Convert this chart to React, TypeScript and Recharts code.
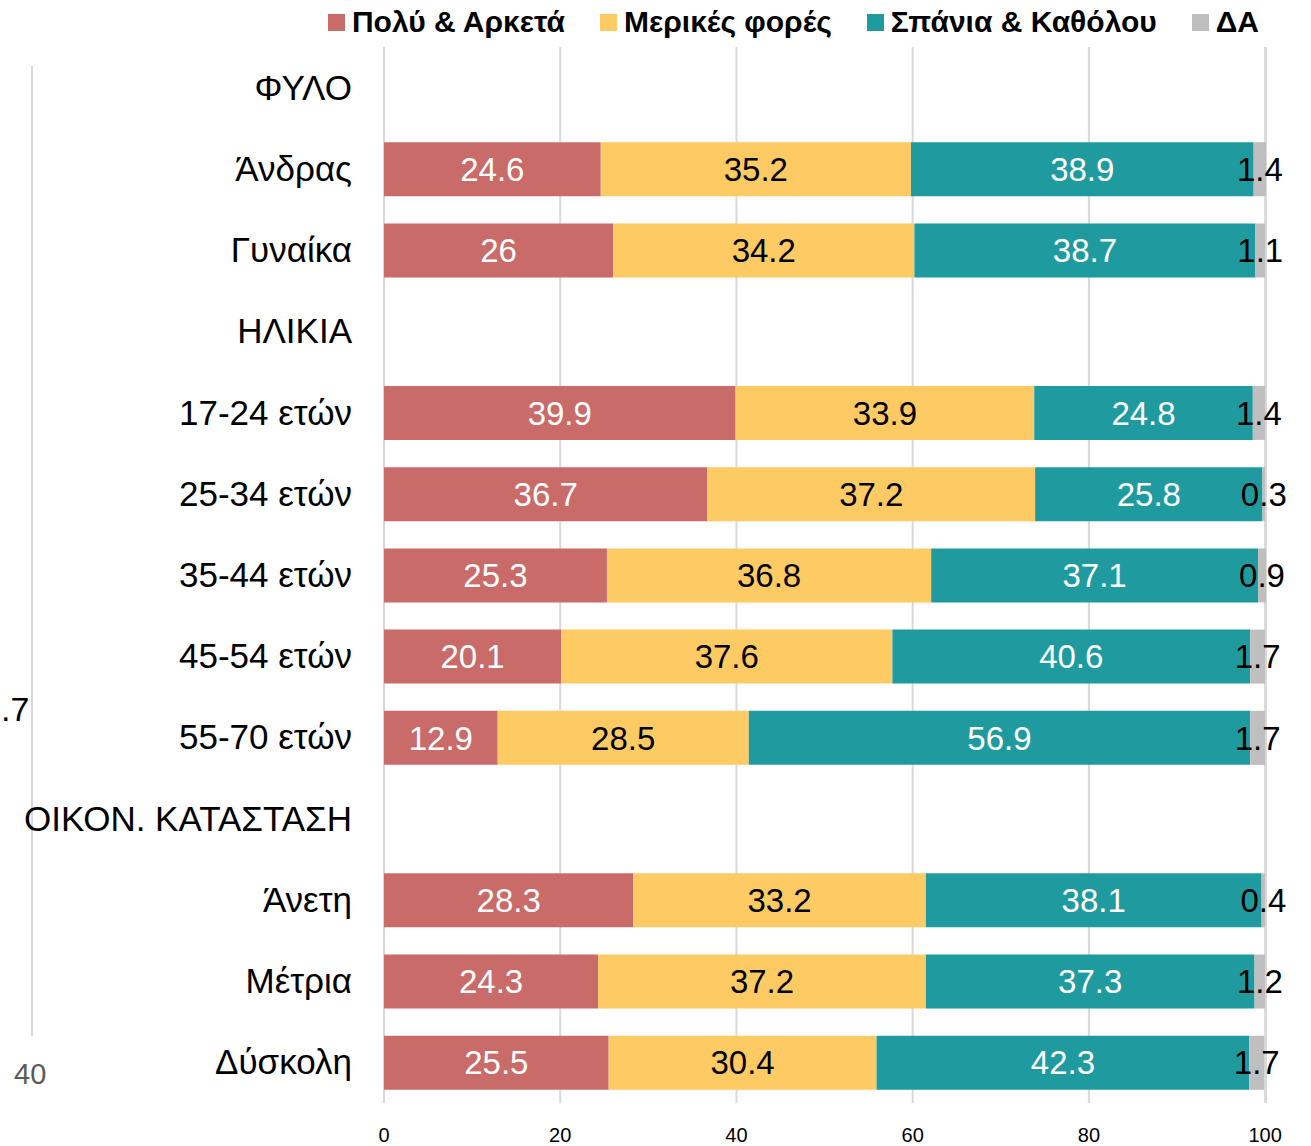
import { BarChart, Bar, XAxis, YAxis, CartesianGrid, LabelList } from 'recharts'

const categories = [
  'ΦΥΛΟ',
  'Άνδρας',
  'Γυναίκα',
  'ΗΛΙΚΙΑ',
  '17-24 ετών',
  '25-34 ετών',
  '35-44 ετών',
  '45-54 ετών',
  '55-70 ετών',
  'ΟΙΚΟΝ. ΚΑΤΑΣΤΑΣΗ',
  'Άνετη',
  'Μέτρια',
  'Δύσκολη',
]

const poly = [null, 24.6, 26, null, 39.9, 36.7, 25.3, 20.1, 12.9, null, 28.3, 24.3, 25.5]
const merikes = [null, 35.2, 34.2, null, 33.9, 37.2, 36.8, 37.6, 28.5, null, 33.2, 37.2, 30.4]
const spania = [null, 38.9, 38.7, null, 24.8, 25.8, 37.1, 40.6, 56.9, null, 38.1, 37.3, 42.3]
const da = [null, 1.4, 1.1, null, 1.4, 0.3, 0.9, 1.7, 1.7, null, 0.4, 1.2, 1.7]

const xTicks = [0, 20, 40, 60, 80, 100]

const series = [
  { key: 'poly', name: 'Πολύ & Αρκετά', color: '#C96B69', text: '#ffffff' },
  { key: 'merikes', name: 'Μερικές φορές', color: '#FECA64', text: '#000000' },
  { key: 'spania', name: 'Σπάνια & Καθόλου', color: '#1F9BA0', text: '#ffffff' },
  { key: 'da', name: 'ΔΑ', color: '#BFBFBF', text: '#000000' },
]

const data = categories.map((name, i) => ({
  name,
  poly: poly[i],
  merikes: merikes[i],
  spania: spania[i],
  da: da[i],
}))

const FONT = '"Liberation Sans", Arial, sans-serif'

function CategoryTick({ x, y, payload }: any) {
  return (
    <text x={x} y={y} dy={12} textAnchor="end" fontSize={35} fontFamily={FONT} fill="#000">
      {payload.value}
    </text>
  )
}

function XTick({ x, y, payload }: any) {
  return (
    <text x={x} y={y} dy={15} textAnchor="middle" fontSize={20} fontFamily={FONT} fill="#000">
      {payload.value}
    </text>
  )
}

function Legend() {
  return (
    <div
      style={{
        position: 'absolute',
        top: 5,
        right: 1311 - 1259,
        display: 'flex',
        alignItems: 'center',
        fontFamily: FONT,
        fontWeight: 'bold',
        fontSize: 30,
        color: '#000',
        whiteSpace: 'nowrap',
      }}
    >
      {series.map((s, i) => (
        <div key={s.key} style={{ display: 'flex', alignItems: 'center', marginRight: i < series.length - 1 ? 35 : 0 }}>
          <span style={{ width: 17, height: 17, background: s.color, display: 'inline-block', marginRight: 7 }} />
          <span>{s.name}</span>
        </div>
      ))}
    </div>
  )
}

export default function App() {
  return (
    <div style={{ position: 'absolute', top: 0, left: 0, width: 1311, height: 1146, background: '#fff', overflow: 'hidden' }}>
      <Legend />
      {/* leftover pieces of a neighbouring chart */}
      <div style={{ position: 'absolute', left: 31, top: 66, width: 2, height: 970, background: '#D9D9D9' }} />
      <div style={{ position: 'absolute', left: 1, top: 690, fontFamily: FONT, fontSize: 34, color: '#000' }}>.7</div>
      <div style={{ position: 'absolute', left: 14, top: 1058, fontFamily: FONT, fontSize: 29, color: '#595959' }}>40</div>
      <BarChart
        width={1311}
        height={1146}
        data={data}
        layout="vertical"
        margin={{ top: 47, right: 45, bottom: 0, left: 0 }}
        barSize={54}
      >
        <CartesianGrid horizontal={false} stroke="#D9D9D9" strokeWidth={2} />
        <XAxis
          type="number"
          domain={[0, 100]}
          ticks={xTicks}
          axisLine={false}
          tickLine={false}
          tickSize={0}
          tickMargin={24}
          height={43}
          tick={<XTick />}
        />
        <YAxis
          type="category"
          dataKey="name"
          width={384}
          axisLine={false}
          tickLine={false}
          tickSize={0}
          tickMargin={32}
          tick={<CategoryTick />}
          interval={0}
        />
        {series.map((s) => (
          <Bar key={s.key} dataKey={s.key} name={s.name} stackId="a" fill={s.color} isAnimationActive={false}>
            <LabelList
              dataKey={s.key}
              position="center"
              fill={s.text}
              fontSize={33}
              fontFamily={FONT}
              formatter={(v: any) => (v == null ? '' : String(v))}
            />
          </Bar>
        ))}
      </BarChart>
    </div>
  )
}
